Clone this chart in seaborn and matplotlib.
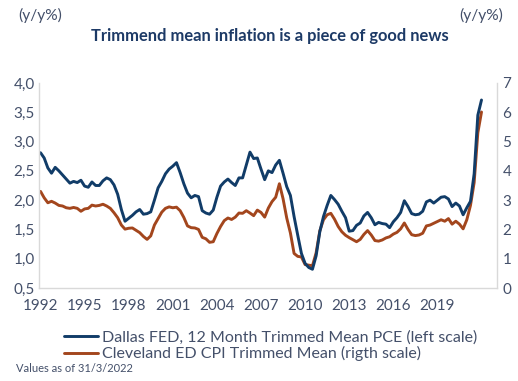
import numpy as np
import pandas as pd
import matplotlib
matplotlib.use("Agg")
import matplotlib.pyplot as plt
import seaborn as sns

# ---- data (quarterly) ----
years = 1992 + np.arange(121) / 4.0

pce_dallas = [
    2.81, 2.72, 2.55, 2.46, 2.56, 2.50, 2.43, 2.36, 2.29, 2.32,
    2.30, 2.34, 2.24, 2.22, 2.31, 2.25, 2.25, 2.33, 2.38, 2.35,
    2.26, 2.10, 1.84, 1.64, 1.69, 1.74, 1.80, 1.84, 1.76, 1.77,
    1.80, 2.00, 2.21, 2.32, 2.45, 2.53, 2.58, 2.64, 2.47, 2.28,
    2.12, 2.04, 2.08, 2.06, 1.82, 1.78, 1.76, 1.83, 2.05, 2.24,
    2.31, 2.36, 2.30, 2.25, 2.38, 2.38, 2.60, 2.82, 2.71, 2.72,
    2.53, 2.35, 2.50, 2.47, 2.60, 2.68, 2.46, 2.23, 2.08, 1.72,
    1.40, 1.09, 0.92, 0.85, 0.82, 1.05, 1.46, 1.72, 1.91, 2.08,
    2.01, 1.93, 1.81, 1.70, 1.47, 1.48, 1.57, 1.61, 1.73, 1.79,
    1.70, 1.58, 1.62, 1.60, 1.59, 1.53, 1.63, 1.70, 1.79, 1.99,
    1.89, 1.77, 1.75, 1.76, 1.81, 1.97, 2.00, 1.95, 2.00, 2.05,
    2.06, 2.02, 1.89, 1.95, 1.90, 1.75, 1.87, 1.98, 2.45, 3.45,
    3.71,
]

cpi_cleveland = [
    3.30, 3.08, 2.91, 2.96, 2.90, 2.82, 2.80, 2.74, 2.72, 2.75,
    2.72, 2.62, 2.70, 2.72, 2.83, 2.80, 2.82, 2.86, 2.80, 2.72,
    2.57, 2.40, 2.15, 2.01, 2.04, 2.05, 1.97, 1.89, 1.76, 1.66,
    1.78, 2.15, 2.37, 2.59, 2.72, 2.77, 2.74, 2.76, 2.64, 2.41,
    2.12, 2.06, 2.05, 2.00, 1.73, 1.68, 1.56, 1.58, 1.86, 2.10,
    2.30, 2.39, 2.34, 2.42, 2.56, 2.55, 2.64, 2.56, 2.47, 2.66,
    2.58, 2.42, 2.73, 2.95, 3.10, 3.56, 3.05, 2.39, 1.88, 1.18,
    1.08, 1.06, 0.80, 0.78, 0.76, 1.20, 1.95, 2.33, 2.50, 2.55,
    2.35, 2.10, 1.92, 1.80, 1.72, 1.65, 1.58, 1.66, 1.83, 1.96,
    1.81, 1.62, 1.60, 1.64, 1.71, 1.75, 1.84, 1.90, 2.02, 2.22,
    2.00, 1.82, 1.79, 1.81, 1.87, 2.12, 2.15, 2.21, 2.27, 2.33,
    2.28, 2.37, 2.18, 2.28, 2.18, 2.02, 2.33, 2.82, 3.60, 5.30,
    6.01,
]

year_labels = [1992, 1995, 1998, 2001, 2004, 2007, 2010, 2013, 2016, 2019]
left_ticks = [0.5, 1.0, 1.5, 2.0, 2.5, 3.0, 3.5, 4.0]
right_ticks = [0, 1, 2, 3, 4, 5, 6, 7]

label_pce = "Dallas FED, 12 Month Trimmed Mean PCE (left scale)"
label_cpi = "Cleveland ED CPI Trimmed Mean (rigth scale)"
title = "Trimmend mean inflation is a piece of good news"
unit = "(y/y%)"
note = "Values as of 31/3/2022"

BLUE = "#113c68"
ORANGE = "#a3461d"
TXT = "#44506a"
TITLE_C = "#1d3a66"
SPINE = "#d9d9d9"

df = pd.DataFrame({"year": years, "pce": pce_dallas, "cpi": cpi_cleveland})

sns.set_style("white")
plt.rcParams['font.family'] = ['Lato', 'DejaVu Sans']

W, H = 518, 381
fig = plt.figure(figsize=(W / 100, H / 100), dpi=100)
ax = fig.add_axes([39 / W, 1 - 288 / H, 458 / W, 205 / H])
ax2 = ax.twinx()

sns.lineplot(data=df, x="year", y="cpi", ax=ax2, color=ORANGE, lw=2.1, legend=False)
sns.lineplot(data=df, x="year", y="pce", ax=ax, color=BLUE, lw=2.1, legend=False)
ax.set_zorder(ax2.get_zorder() + 1)
ax.patch.set_visible(False)

k = 14.70
x0 = 1992 - 1.5 / k
x1 = 1992 + 456.5 / k
ax.set_xlim(x0, x1)
ax.set_ylim(0.5, 4.0)
ax2.set_ylim(0, 7)

TICK_FS = 11
ax.set_xticks(year_labels)
ax.set_xticklabels([str(y) for y in year_labels])
ax.set_xticks([y + 0.5 for y in range(1992, 2022)], minor=True)
ax.tick_params(axis="x", which="major", length=0, pad=8, labelsize=TICK_FS, labelcolor=TXT)
ax.tick_params(axis="x", which="minor", length=5, width=0.8, color=SPINE, direction="out")

ax.set_yticks(left_ticks)
ax.set_yticklabels([f"{v:.1f}".replace(".", ",") for v in left_ticks])
ax.tick_params(axis="y", length=0, pad=3, labelsize=TICK_FS, labelcolor=TXT)
ax2.set_yticks(right_ticks)
ax2.set_yticklabels([str(v) for v in right_ticks])
ax2.tick_params(axis="y", length=0, pad=4, labelsize=TICK_FS, labelcolor=TXT)

ax.set_xlabel("")
ax.set_ylabel("")
ax2.set_ylabel("")

for a in (ax, ax2):
    for s in a.spines.values():
        s.set_color(SPINE)
        s.set_linewidth(1.0)
    a.spines["top"].set_visible(False)
ax.spines["right"].set_visible(False)
ax2.spines["left"].set_visible(False)
ax2.spines["bottom"].set_visible(False)
ax.grid(False)
ax2.grid(False)

fig.text(18 / W, 1 - 15 / H, unit, ha="left", va="center", fontsize=11.2, color=TXT)
fig.text(503 / W, 1 - 15 / H, unit, ha="right", va="center", fontsize=11.2, color=TXT)
fig.text(270 / W, 1 - 36 / H, title, ha="center", va="center", fontsize=11.9,
         fontweight="bold", color=TITLE_C)

h1 = ax.get_lines()[0]
h2 = ax2.get_lines()[0]
leg = fig.legend([h1, h2], [label_pce, label_cpi], loc="upper left",
                 bbox_to_anchor=(64 / W, 1 - 330 / H), frameon=False,
                 fontsize=11.5, handlelength=2.1, handletextpad=0.3,
                 labelspacing=0.12, borderpad=0, borderaxespad=0)
for t in leg.get_texts():
    t.set_color(TXT)

fig.text(16 / W, 1 - 368 / H, note, ha="left", va="center", fontsize=8, color=TXT)

fig.savefig("out.png", dpi=100)
